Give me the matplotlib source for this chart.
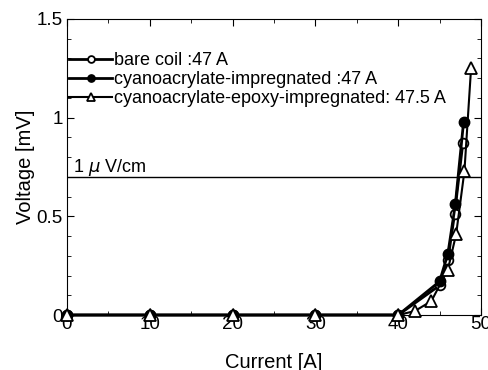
import matplotlib
matplotlib.use("Agg")
import matplotlib.pyplot as plt
from matplotlib.ticker import MultipleLocator

plt.rcParams['font.family'] = ['Liberation Sans', 'DejaVu Sans']

# bare coil
bare_current = [0, 10, 20, 30, 40, 45, 46, 46.8, 47.8]
bare_voltage = [0, 0, 0, 0, 0, 0.15, 0.28, 0.51, 0.87]

# cyanoacrylate-impregnated
cyano_current = [0, 10, 20, 30, 40, 45, 46, 46.9, 47.9]
cyano_voltage = [0, 0, 0, 0, 0, 0.17, 0.31, 0.56, 0.98]

# cyanoacrylate-epoxy-impregnated
epoxy_current = [0, 10, 20, 30, 40, 42, 44, 46, 47, 48, 48.8]
epoxy_voltage = [0, 0, 0, 0, 0, 0.02, 0.07, 0.23, 0.41, 0.73, 1.25]

criterion = 0.7

fig = plt.figure(figsize=(4.89, 3.70), dpi=100)
ax = fig.add_axes([67 / 489, 55 / 370, 414 / 489, 296 / 370])

ax.axhline(criterion, color="black", lw=1)
ax.text(0.7, criterion + 0.025, "1 $\\mu$ V/cm", fontsize=13)

ax.plot(bare_current, bare_voltage, "-o", color="black", mfc="white",
        mec="black", ms=7, lw=2, mew=1.3, label="bare coil :47 A",
        clip_on=False, zorder=3)
ax.plot(cyano_current, cyano_voltage, "-o", color="black", mfc="black",
        ms=7.5, lw=2, label="cyanoacrylate-impregnated :47 A",
        clip_on=False, zorder=3)
ax.plot(epoxy_current, epoxy_voltage, "-^", color="black", mfc="white",
        mec="black", ms=8, lw=1.5, mew=1.3,
        label="cyanoacrylate-epoxy-impregnated: 47.5 A",
        clip_on=False, zorder=3)

ax.set_xlim(0, 50)
ax.set_ylim(0, 1.5)
ax.xaxis.set_major_locator(MultipleLocator(10))
ax.xaxis.set_minor_locator(MultipleLocator(5))
ax.yaxis.set_minor_locator(MultipleLocator(0.1))
ax.set_yticks([0, 0.5, 1, 1.5])
ax.set_yticklabels(["0", "0.5", "1", "1.5"])
ax.tick_params(which="both", direction="in", top=True, right=True, labelsize=13.5)
ax.tick_params(which="major", length=5)
ax.tick_params(which="minor", length=3)
ax.tick_params(axis="x", pad=1)
ax.tick_params(axis="y", pad=3)

ax.set_xlabel("Current [A]", fontsize=14.5, labelpad=14)
ax.set_ylabel("Voltage [mV]", fontsize=14.5, labelpad=1)

ax.legend(loc="upper left", bbox_to_anchor=(0.005, 0.888), frameon=False,
          fontsize=13, handlelength=2.4, handletextpad=0.1, labelspacing=0.12,
          borderaxespad=0, borderpad=0, markerscale=0.7)

fig.savefig("out.png", dpi=100)
